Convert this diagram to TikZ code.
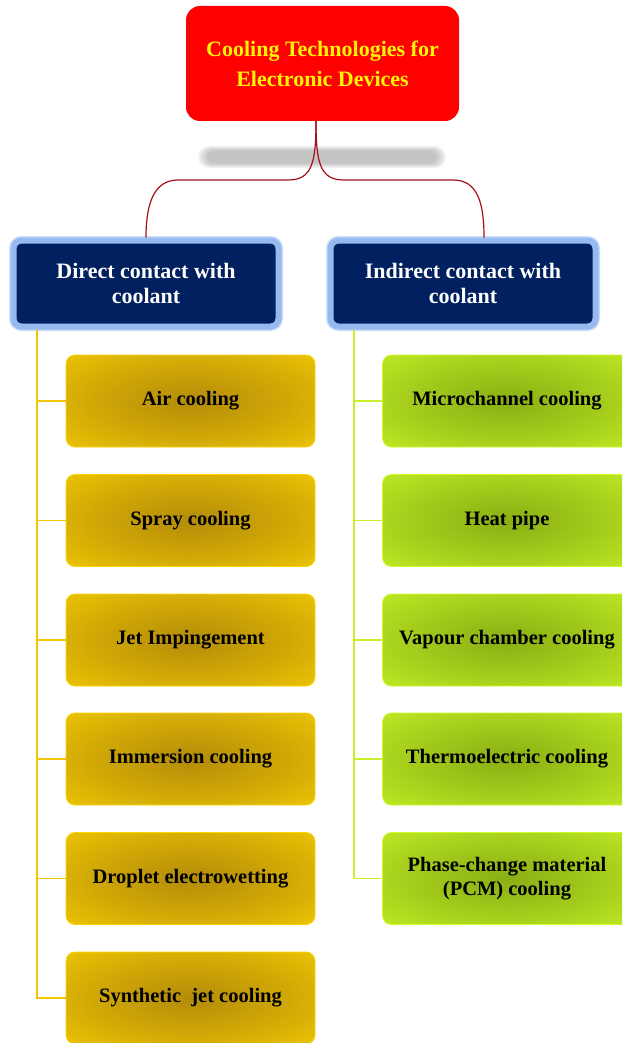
\documentclass[tikz,border=0pt]{standalone}
\usepackage{fontspec}
\setmainfont{Liberation Serif}

\definecolor{titlered}{RGB}{255,0,0}
\definecolor{titletext}{RGB}{255,245,0}
\definecolor{navybox}{RGB}{0,32,96}
\definecolor{navyglow}{RGB}{150,185,240}
\definecolor{branchred}{RGB}{165,15,25}
\definecolor{shadowgray}{RGB}{150,150,150}
\definecolor{goldedge}{RGB}{252,212,0}
\definecolor{goldcore}{RGB}{180,140,10}
\definecolor{goldline}{RGB}{245,198,0}
\definecolor{limeedge}{RGB}{205,250,40}
\definecolor{limecore}{RGB}{138,175,20}
\definecolor{limeline}{RGB}{200,240,40}

% soft centre-dark fills for the technique boxes
\pgfdeclareradialshading{goldglow}{\pgfpoint{0bp}{0bp}}{color(0bp)=(goldcore); color(20bp)=(goldcore!60!goldedge); color(46bp)=(goldedge); color(50bp)=(goldedge)}
\pgfdeclareradialshading{limeglow}{\pgfpoint{0bp}{0bp}}{color(0bp)=(limecore); color(20bp)=(limecore!60!limeedge); color(46bp)=(limeedge); color(50bp)=(limeedge)}

\tikzset{
  titlebox/.style={fill=titlered, rounded corners=14pt, minimum width=273pt, minimum height=115pt, inner sep=0pt,
    text=titletext, font=\bfseries\fontsize{22}{30}\selectfont, align=center},
  headbox/.style={fill=navybox, draw=navyglow, line width=6pt, rounded corners=8pt,
    preaction={draw=navyglow, line width=9pt, opacity=0.5, rounded corners=9pt},
    minimum width=265pt, minimum height=86pt, inner sep=0pt,
    text=white, font=\bfseries\fontsize{22}{25}\selectfont, align=center},
  goldbox/.style={shading=goldglow, draw=goldedge, line width=0.8pt, rounded corners=9pt,
    minimum width=249pt, minimum height=92pt, inner sep=0pt,
    font=\bfseries\fontsize{20.5}{24}\selectfont, align=center},
  limebox/.style={goldbox, shading=limeglow, draw=limeedge},
  branch/.style={draw=branchred, line width=1.2pt},
  goldstem/.style={draw=goldline, line width=1.8pt},
  limestem/.style={draw=limeline, line width=1.8pt}
}

\begin{document}
\begin{tikzpicture}[x=1pt, y=-1pt]
\useasboundingbox (0,0) rectangle (622,1043);
\clip (0,0) rectangle (622,1043);

% blurred bar under the title
\foreach \g in {0,2,...,10}
  \draw[shadowgray, opacity=0.13, line cap=round, line width={22pt-\g pt}] ({209+\g/2},157) -- ({435-\g/2},157);

\node[titlebox] (title) at (322.5,63.5) {Cooling Technologies for\\Electronic Devices};
\coordinate (hub) at (316,121);

\node[headbox] (direct) at (146,283.5) {Direct contact with\\coolant};
\node[headbox] (indirect) at (463,283.5) {Indirect contact with\\coolant};

% branches from the title
\draw[branch] (hub) .. controls +(0,42) and +(24,0) .. (288,180) -- (178,180) .. controls +(-24,0) and +(0,-34) .. (direct.north);
\draw[branch] (hub) .. controls +(0,42) and +(-24,0) .. (344,180) -- (453,180) .. controls +(25,0) and +(0,-34) .. ([xshift=21pt]indirect.north);

% direct contact techniques
\node[goldbox] (d1) at (190.5,401) {Air cooling};
\node[goldbox] (d2) at (190.5,520.5) {Spray cooling};
\node[goldbox] (d3) at (190.5,640) {Jet Impingement};
\node[goldbox] (d4) at (190.5,759) {Immersion cooling};
\node[goldbox] (d5) at (190.5,878.5) {Droplet electrowetting};
\node[goldbox] (d6) at (190.5,998) {Synthetic\ \ jet cooling};

% indirect contact techniques
\node[limebox] (i1) at (507,401) {Microchannel cooling};
\node[limebox] (i2) at (507,520.5) {Heat pipe};
\node[limebox] (i3) at (507,640) {Vapour chamber cooling};
\node[limebox] (i4) at (507,759) {Thermoelectric cooling};
\node[limebox] (i5) at (507,878.5) {Phase-change material\\(PCM) cooling};

\draw[goldstem] ([xshift=26.5pt]direct.south west) |- (d1.west);
\draw[goldstem] ([xshift=26.5pt]direct.south west) |- (d2.west);
\draw[goldstem] ([xshift=26.5pt]direct.south west) |- (d3.west);
\draw[goldstem] ([xshift=26.5pt]direct.south west) |- (d4.west);
\draw[goldstem] ([xshift=26.5pt]direct.south west) |- (d5.west);
\draw[goldstem] ([xshift=26.5pt]direct.south west) |- (d6.west);

\draw[limestem] ([xshift=26.5pt]indirect.south west) |- (i1.west);
\draw[limestem] ([xshift=26.5pt]indirect.south west) |- (i2.west);
\draw[limestem] ([xshift=26.5pt]indirect.south west) |- (i3.west);
\draw[limestem] ([xshift=26.5pt]indirect.south west) |- (i4.west);
\draw[limestem] ([xshift=26.5pt]indirect.south west) |- (i5.west);
\end{tikzpicture}
\end{document}
